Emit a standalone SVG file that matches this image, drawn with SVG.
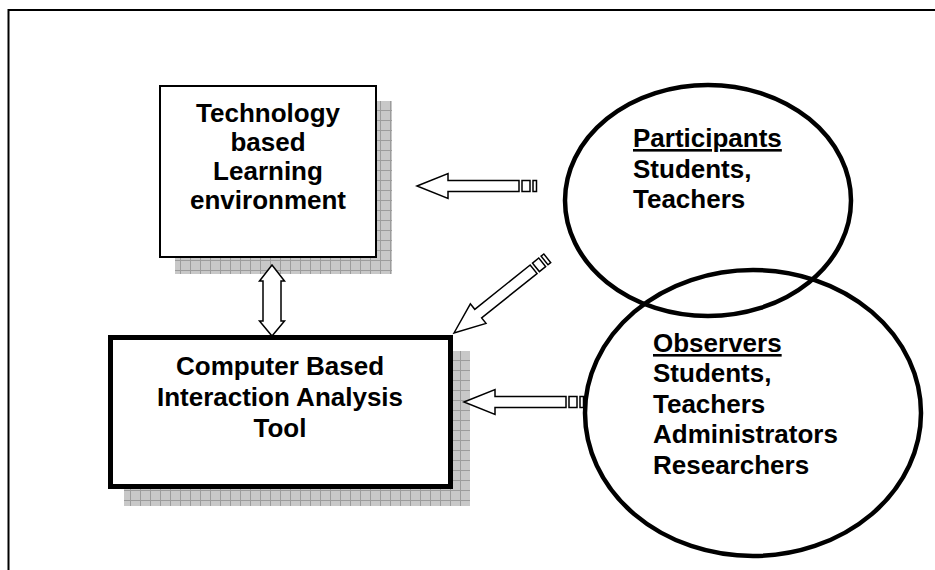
<svg xmlns="http://www.w3.org/2000/svg" width="935" height="570" viewBox="0 0 935 570">
  <defs>
    <pattern id="grid" width="10" height="10" patternUnits="userSpaceOnUse">
      <rect width="10" height="10" fill="#c8c8c8"/>
      <path d="M0,0.5 H10 M0.5,0 V10" stroke="#9c9c9c" stroke-width="1" fill="none"/>
    </pattern>
    <g id="stripedArrow">
      <path d="M0,0 L31,-12.5 L31,-5.5 L102,-5.5 L102,5.5 L31,5.5 L31,12.5 Z"/>
      <rect x="105" y="-5.5" width="8" height="11"/>
      <rect x="116" y="-5.5" width="3.5" height="11"/>
    </g>
  </defs>
  <style>
    .lbl { font-family: "Liberation Sans", Arial, sans-serif; font-weight: bold; font-size: 26px; fill: #000; }
    .mid { text-anchor: middle; }
    .shadow { fill: url(#grid); }
    .arrow { fill: #fff; stroke: #000; stroke-width: 1.5; stroke-linejoin: miter; }
    .ell { fill: none; stroke: #000; stroke-width: 4.5; }
  </style>
  <rect width="935" height="570" fill="#fff"/>
  <path id="frame" d="M8.5,570 V10 H935" fill="none" stroke="#000" stroke-width="2"/>

  <g id="node-tble">
    <rect class="shadow" x="175" y="101" width="217" height="173"/>
    <rect x="160" y="86" width="216" height="171" fill="#fff" stroke="#000" stroke-width="2"/>
    <text class="lbl mid" x="268" y="122">Technology</text>
    <text class="lbl mid" x="268" y="151">based</text>
    <text class="lbl mid" x="268" y="180">Learning</text>
    <text class="lbl mid" x="268" y="209">environment</text>
  </g>

  <g id="node-cbiat">
    <rect class="shadow" x="124" y="351" width="346" height="155"/>
    <rect x="110.5" y="337.5" width="340" height="149" fill="#fff" stroke="#000" stroke-width="5"/>
    <text class="lbl mid" x="280" y="375">Computer Based</text>
    <text class="lbl mid" x="280" y="406">Interaction Analysis</text>
    <text class="lbl mid" x="280" y="437">Tool</text>
  </g>

  <g id="node-participants">
    <ellipse class="ell" cx="708" cy="200.5" rx="143" ry="115.5"/>
    <text class="lbl" x="633" y="147" text-decoration="underline">Participants</text>
    <text class="lbl" x="633" y="178">Students,</text>
    <text class="lbl" x="633" y="208">Teachers</text>
  </g>

  <g id="node-observers">
    <ellipse class="ell" cx="753" cy="413" rx="168" ry="143"/>
    <text class="lbl" x="653" y="352" text-decoration="underline">Observers</text>
    <text class="lbl" x="653" y="382">Students,</text>
    <text class="lbl" x="653" y="413">Teachers</text>
    <text class="lbl" x="653" y="443">Administrators</text>
    <text class="lbl" x="653" y="474">Researchers</text>
  </g>

  <g id="connectors" class="arrow">
    <use href="#stripedArrow" transform="translate(417,186)"/>
    <use href="#stripedArrow" transform="translate(454,333) rotate(-38.7)"/>
    <use href="#stripedArrow" transform="translate(464,402)"/>
    <path d="M272,265 L284.5,281 L281,281 L281,321 L284.5,321 L272,336 L259.5,321 L263,321 L263,281 L259.5,281 Z"/>
  </g>
</svg>
